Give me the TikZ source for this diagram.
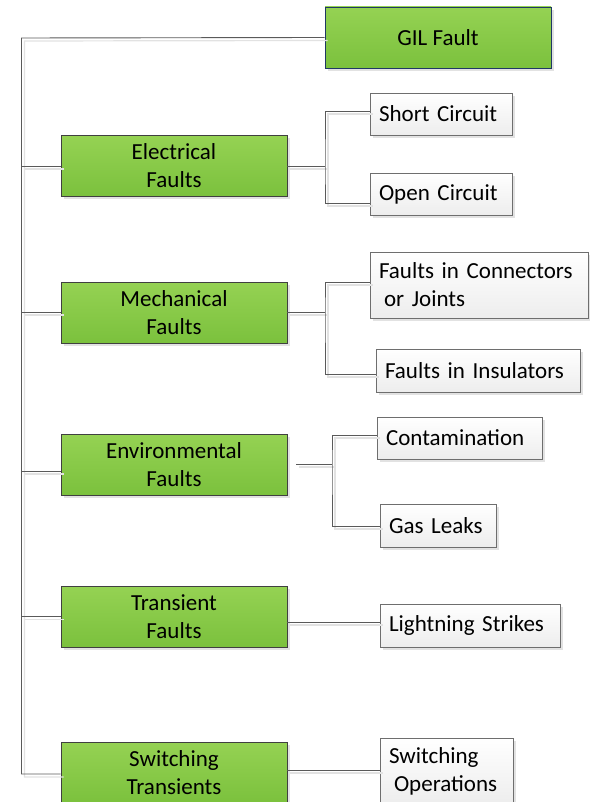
\documentclass[tikz,border=0pt]{standalone}
\usepackage{fontspec}
\setmainfont{Carlito}
\usetikzlibrary{shadows}

\definecolor{greentop}{HTML}{95D253}
\definecolor{greenbot}{HTML}{7BC13D}
\definecolor{greenedge}{HTML}{404040}
\definecolor{navyedge}{HTML}{1F3864}
\definecolor{greyedge}{HTML}{6E6E6E}
\definecolor{whitebot}{HTML}{EDEDED}
\definecolor{linecol}{HTML}{5A5A5A}
\definecolor{shadowcol}{HTML}{E2E2E2}

\tikzset{
  boxshadow/.style={drop shadow={shadow xshift=3pt, shadow yshift=-3pt, fill=shadowcol, opacity=1}},
  catbox/.style={draw=greenedge, line width=0.9pt, top color=greentop, bottom color=greenbot,
    boxshadow, minimum width=226pt, minimum height=61pt, inner sep=0pt,
    align=center, font=\fontsize{23}{28}\selectfont},
  rootbox/.style={catbox, draw=navyedge},
  leafbox/.style={draw=greyedge, line width=0.9pt, top color=white, bottom color=whitebot,
    boxshadow, inner xsep=9pt, inner ysep=0pt, align=left,
    font=\fontsize{23}{28}\selectfont},
  conn/.style={draw=linecol, line width=0.9pt,
    preaction={draw=shadowcol, line width=1.2pt, transform canvas={shift={(3pt,-3pt)}}}}
}

\begin{document}
\begin{tikzpicture}[x=1pt,y=-1pt]
\useasboundingbox (0,0) rectangle (589,802);

% category boxes
\node[rootbox] (gil)   at (438,37.5)  {GIL Fault};
\node[catbox]  (elec)  at (174,166)   {Electrical\\Faults};
\node[catbox]  (mech)  at (174,312.5) {Mechanical\\Faults};
\node[catbox]  (env)   at (174,464.5) {Environmental\\Faults};
\node[catbox]  (trans) at (174,616.5) {Transient\\Faults};
\node[catbox]  (sw)    at (174,772.5) {Switching\\Transients};

% leaf boxes
\node[leafbox, minimum width=142pt, minimum height=42pt, text width=124pt] (sc)   at (441,114)   {Short Circuit};
\node[leafbox, minimum width=142pt, minimum height=42pt, text width=124pt] (oc)   at (441,194)   {Open Circuit};
\node[leafbox, minimum width=218pt, minimum height=66pt, text width=200pt] (fcj)  at (479,285)   {Faults in Connectors\\\hspace*{5pt}or Joints};
\node[leafbox, minimum width=204pt, minimum height=43pt, text width=186pt] (fi)   at (478,370.5) {Faults in Insulators};
\node[leafbox, minimum width=165pt, minimum height=42pt, text width=147pt] (cont) at (459.5,438) {Contamination};
\node[leafbox, minimum width=116pt, minimum height=43pt, text width=98pt]  (gas)  at (438,525.5) {Gas Leaks};
\node[leafbox, minimum width=180pt, minimum height=43pt, text width=162pt] (ls)   at (470,625.5) {Lightning Strikes};
\node[leafbox, minimum width=133pt, minimum height=66pt, text width=115pt] (so)   at (446.5,771) {Switching\\\hspace*{5pt}Operations};

% main trunk
\coordinate (tt) at (21.5,38);
\coordinate (tb) at (21.5,774);
\draw[conn] (gil.west) -- (tt) -- (tb) -- ([yshift=-1.5pt]sw.west);
\draw[conn] (elec.west -| tt) -- (elec.west);
\draw[conn] ([yshift=0.5pt]mech.west -| tt) -- ([yshift=0.5pt]mech.west);
\draw[conn] ([yshift=-6.5pt]env.west -| tt) -- ([yshift=-6.5pt]env.west);
\draw[conn] (trans.west -| tt) -- (trans.west);

% electrical branch
\coordinate (eb) at (325,166);
\draw[conn] (elec.east) -- (eb);
\draw[conn] ([yshift=3pt]sc.west) -| (eb) |- ([yshift=-9pt]oc.west);

% mechanical branch
\coordinate (mb) at (325,312);
\draw[conn] ([yshift=0.5pt]mech.east) -- (mb);
\draw[conn] ([yshift=3pt]fcj.west) -| (mb) |- ([yshift=-3.5pt]fi.west);

% environmental branch
\coordinate (ea) at (296,464);
\coordinate (ebr) at (332,464);
\draw[conn] (ea) -- (ebr);
\draw[conn] ([yshift=3pt]cont.west) -| (ebr) |- ([yshift=-0.5pt]gas.west);

% single-leaf branches
\draw[conn] ([yshift=-5.5pt]trans.east) -- ([yshift=3.5pt]ls.west);
\draw[conn] ([yshift=2.5pt]sw.east) -- ([yshift=1pt]so.west);
\end{tikzpicture}
\end{document}
